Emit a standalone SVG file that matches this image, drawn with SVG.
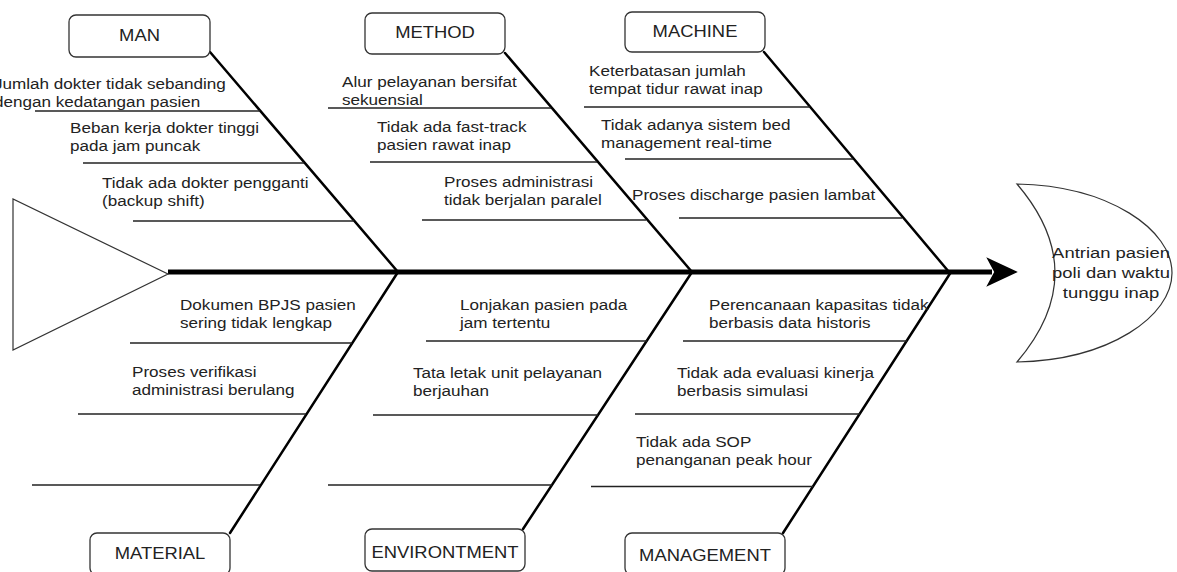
<svg xmlns="http://www.w3.org/2000/svg" width="1177" height="572" viewBox="0 0 1177 572">
<style>
.t{font-family:"Liberation Sans",Arial,sans-serif;font-size:15px;fill:#222}
.lb{font-family:"Liberation Sans",Arial,sans-serif;font-size:16px;fill:#222;text-anchor:middle}
.hd{font-family:"Liberation Sans",Arial,sans-serif;font-size:15.5px;fill:#222;text-anchor:middle}
.box{fill:#fff;stroke:#333;stroke-width:1.3}
.rib{stroke:#000;stroke-width:2.5;fill:none;stroke-linecap:round}
.sub{stroke:#222;stroke-width:1.3;fill:none}
.shape{fill:#fff;stroke:#333;stroke-width:1.2}
</style>
<rect width="1177" height="572" fill="#fff"/>

<g id="connectors">
  <line x1="168" y1="272" x2="992" y2="272" stroke="#000" stroke-width="5"/>
  <path d="M1016,272 L988,259 L995,272 L988,285 Z" fill="#000" stroke="#000" stroke-width="1.5" stroke-linejoin="miter"/>
  <line class="rib" x1="210" y1="52" x2="398" y2="272"/>
  <line class="rib" x1="505" y1="53" x2="692" y2="272"/>
  <line class="rib" x1="764" y1="52" x2="949" y2="272"/>
  <line class="rib" x1="230" y1="533" x2="398" y2="272"/>
  <line class="rib" x1="523" y1="529" x2="692" y2="272"/>
  <line class="rib" x1="783" y1="533" x2="951" y2="272"/>
</g>

<g id="tail">
  <path class="shape" d="M13,199 L13,350 L168,274 Z"/>
</g>

<g id="head">
  <path class="shape" d="M1017,184 C1110,186 1172,230 1172,273 C1172,316 1110,360 1017,362 Q1093,273 1017,184 Z"/>
  <text class="hd" transform="translate(1111,258) scale(1.19,1)"><tspan x="0" y="0">Antrian pasien</tspan><tspan x="0" y="20">poli dan waktu</tspan><tspan x="0" y="40">tunggu inap</tspan></text>
</g>

<g id="man">
  <rect class="box" x="69" y="15" width="141" height="42" rx="7"/>
  <text class="lb" transform="translate(139.5,41) scale(1.15,1)">MAN</text>
</g>
<g id="method">
  <rect class="box" x="365" y="13" width="140" height="41" rx="7"/>
  <text class="lb" transform="translate(435,38) scale(1.15,1)">METHOD</text>
</g>
<g id="machine">
  <rect class="box" x="625" y="12" width="140" height="40" rx="7"/>
  <text class="lb" transform="translate(695,37) scale(1.15,1)">MACHINE</text>
</g>
<g id="material">
  <rect class="box" x="90" y="533" width="140" height="42" rx="7"/>
  <text class="lb" transform="translate(160,559) scale(1.15,1)">MATERIAL</text>
</g>
<g id="environtment">
  <rect class="box" x="365" y="529" width="160" height="42" rx="7"/>
  <text class="lb" transform="translate(445,558) scale(1.15,1)">ENVIRONTMENT</text>
</g>
<g id="management">
  <rect class="box" x="625" y="533" width="160" height="42" rx="7"/>
  <text class="lb" transform="translate(705,561) scale(1.15,1)">MANAGEMENT</text>
</g>

<g id="man-causes">
  <line class="sub" x1="35" y1="111" x2="260" y2="111"/>
  <line class="sub" x1="83" y1="163" x2="304" y2="163"/>
  <line class="sub" x1="133" y1="221" x2="354" y2="221"/>
  <text class="t" transform="translate(-6,89) scale(1.14,1)"><tspan x="0" y="0">Jumlah dokter tidak sebanding</tspan><tspan x="0" y="18">dengan kedatangan pasien</tspan></text>
  <text class="t" transform="translate(70,133) scale(1.14,1)"><tspan x="0" y="0">Beban kerja dokter tinggi</tspan><tspan x="0" y="18">pada jam puncak</tspan></text>
  <text class="t" transform="translate(102,188) scale(1.14,1)"><tspan x="0" y="0">Tidak ada dokter pengganti</tspan><tspan x="0" y="18">(backup shift)</tspan></text>
</g>

<g id="method-causes">
  <line class="sub" x1="328" y1="108" x2="551" y2="108"/>
  <line class="sub" x1="370" y1="162" x2="597" y2="162"/>
  <line class="sub" x1="422" y1="220" x2="646" y2="220"/>
  <text class="t" transform="translate(342,87) scale(1.14,1)"><tspan x="0" y="0">Alur pelayanan bersifat</tspan><tspan x="0" y="18">sekuensial</tspan></text>
  <text class="t" transform="translate(377,132) scale(1.14,1)"><tspan x="0" y="0">Tidak ada fast-track</tspan><tspan x="0" y="18">pasien rawat inap</tspan></text>
  <text class="t" transform="translate(444,187) scale(1.14,1)"><tspan x="0" y="0">Proses administrasi</tspan><tspan x="0" y="18">tidak berjalan paralel</tspan></text>
</g>

<g id="machine-causes">
  <line class="sub" x1="584" y1="107" x2="810" y2="107"/>
  <line class="sub" x1="625" y1="159" x2="853" y2="159"/>
  <line class="sub" x1="679" y1="218" x2="902" y2="218"/>
  <text class="t" transform="translate(589,76) scale(1.14,1)"><tspan x="0" y="0">Keterbatasan jumlah</tspan><tspan x="0" y="18">tempat tidur rawat inap</tspan></text>
  <text class="t" transform="translate(601,130) scale(1.14,1)"><tspan x="0" y="0">Tidak adanya sistem bed</tspan><tspan x="0" y="18">management real-time</tspan></text>
  <text class="t" transform="translate(632,199.5) scale(1.14,1)">Proses discharge pasien lambat</text>
</g>

<g id="material-causes">
  <line class="sub" x1="130" y1="343" x2="352" y2="343"/>
  <line class="sub" x1="78" y1="414" x2="306" y2="414"/>
  <line class="sub" x1="32" y1="485" x2="260" y2="485"/>
  <text class="t" transform="translate(180,310) scale(1.14,1)"><tspan x="0" y="0">Dokumen BPJS pasien</tspan><tspan x="0" y="18">sering tidak lengkap</tspan></text>
  <text class="t" transform="translate(132,377) scale(1.14,1)"><tspan x="0" y="0">Proses verifikasi</tspan><tspan x="0" y="18">administrasi berulang</tspan></text>
</g>

<g id="environtment-causes">
  <line class="sub" x1="426" y1="341" x2="647" y2="341"/>
  <line class="sub" x1="373" y1="415" x2="598" y2="415"/>
  <line class="sub" x1="328" y1="485" x2="552" y2="485"/>
  <text class="t" transform="translate(460,310) scale(1.14,1)"><tspan x="0" y="0">Lonjakan pasien pada</tspan><tspan x="0" y="18">jam tertentu</tspan></text>
  <text class="t" transform="translate(413,378) scale(1.14,1)"><tspan x="0" y="0">Tata letak unit pelayanan</tspan><tspan x="0" y="18">berjauhan</tspan></text>
</g>

<g id="management-causes">
  <line class="sub" x1="683" y1="341" x2="907" y2="341"/>
  <line class="sub" x1="635" y1="414" x2="860" y2="414"/>
  <line class="sub" x1="591" y1="486.5" x2="813" y2="486.5"/>
  <text class="t" transform="translate(709,310) scale(1.14,1)"><tspan x="0" y="0">Perencanaan kapasitas tidak</tspan><tspan x="0" y="18">berbasis data historis</tspan></text>
  <text class="t" transform="translate(677,378) scale(1.14,1)"><tspan x="0" y="0">Tidak ada evaluasi kinerja</tspan><tspan x="0" y="18">berbasis simulasi</tspan></text>
  <text class="t" transform="translate(636,447) scale(1.14,1)"><tspan x="0" y="0">Tidak ada SOP</tspan><tspan x="0" y="18">penanganan peak hour</tspan></text>
</g>
</svg>
